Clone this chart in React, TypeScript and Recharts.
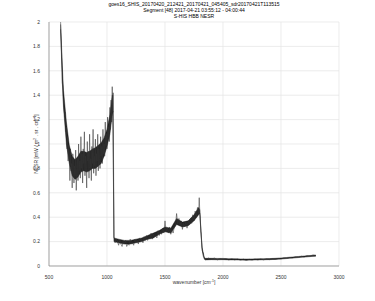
import { Area, CartesianGrid, ComposedChart, Line, XAxis, YAxis } from "recharts";

// band 1 (longwave), wavenumber in cm-1 and NESR values
const longwaveWn = [
  600, 605, 610, 615, 620, 625, 630, 635, 640, 645, 650, 655, 660, 665, 670, 675,
  680, 685, 690, 695, 700, 705, 710, 715, 720, 725, 730, 735, 740, 745, 750, 755,
  760, 765, 770, 775, 780, 785, 790, 795, 800, 805, 810, 815, 820, 825, 830, 835,
  840, 845, 850, 855, 860, 865, 870, 875, 880, 885, 890, 895, 900, 905, 910, 915,
  920, 925, 930, 935, 940, 945, 950, 955, 960, 965, 970, 975, 980, 985, 990, 995,
  1000, 1005, 1010, 1015, 1020, 1025, 1030, 1035, 1040, 1045, 1050, 1053,
];
const longwaveNesr = [
  1.98, 1.8, 1.72, 1.5, 1.47, 1.33, 1.3, 1.22, 1.26, 1.1, 1.14, 0.96, 1.06, 0.86, 0.99, 0.9,
  0.7, 0.96, 0.78, 0.84, 0.64, 0.92, 0.86, 0.68, 0.82, 0.74, 0.95, 0.62, 0.8, 0.88, 0.7, 1.0,
  0.78, 0.86, 0.72, 1.06, 0.8, 0.92, 0.68, 0.96, 0.84, 1.1, 0.74, 0.9, 0.82, 0.64, 1.02, 0.86,
  0.94, 0.72, 1.08, 0.8, 0.88, 0.7, 0.98, 0.84, 1.12, 0.76, 0.9, 0.82, 1.04, 0.74, 0.92, 0.86,
  1.08, 0.78, 0.96, 0.88, 0.8, 1.06, 0.9, 0.98, 0.84, 1.12, 0.92, 1.0, 0.9, 1.18, 0.98, 1.08,
  0.96, 1.22, 1.04, 1.14, 1.02, 1.3, 1.12, 1.36, 1.18, 1.47, 1.26, 1.42,
];

// band 2 (midwave)
const midwaveWn = [
  1060, 1070, 1080, 1090, 1100, 1110, 1120, 1130, 1140, 1150, 1160, 1170, 1180, 1190,
  1200, 1210, 1220, 1230, 1240, 1250, 1260, 1270, 1280, 1290, 1300, 1310, 1320, 1330,
  1340, 1350, 1360, 1370, 1380, 1390, 1400, 1410, 1420, 1430, 1440, 1450, 1460, 1470,
  1480, 1490, 1500, 1510, 1520, 1530, 1540, 1550, 1560, 1570, 1580, 1590, 1600, 1610,
  1620, 1630, 1640, 1650, 1660, 1670, 1680, 1690, 1700, 1710, 1720, 1730, 1740, 1750,
  1760, 1770, 1780, 1790, 1795, 1800, 1810, 1820, 1830, 1840,
];
const midwaveNesr = [
  0.24, 0.19, 0.22, 0.2, 0.17, 0.21, 0.18, 0.16, 0.2, 0.18, 0.21, 0.16, 0.18, 0.17,
  0.22, 0.18, 0.19, 0.17, 0.22, 0.19, 0.21, 0.18, 0.23, 0.2, 0.22, 0.19, 0.24, 0.21,
  0.25, 0.21, 0.23, 0.22, 0.27, 0.22, 0.26, 0.24, 0.25, 0.23, 0.29, 0.25, 0.28, 0.26,
  0.31, 0.27, 0.37, 0.28, 0.31, 0.27, 0.32, 0.26, 0.3, 0.27, 0.32, 0.33, 0.43, 0.34,
  0.39, 0.33, 0.37, 0.3, 0.35, 0.32, 0.36, 0.31, 0.37, 0.34, 0.39, 0.35, 0.42, 0.37,
  0.45, 0.4, 0.48, 0.43, 0.56, 0.44, 0.28, 0.14, 0.08, 0.06,
];

// band 3 (shortwave)
const shortwaveWn = [
  1850, 1875, 1900, 1925, 1950, 1975, 2000, 2025, 2050, 2075, 2100, 2125, 2150,
  2175, 2200, 2225, 2250, 2275, 2300, 2325, 2350, 2375, 2400, 2425, 2450, 2475,
  2500, 2525, 2550, 2575, 2600, 2625, 2650, 2675, 2700, 2725, 2750, 2775, 2800,
];
const shortwaveNesr = [
  0.05, 0.065, 0.055, 0.065, 0.05, 0.06, 0.055, 0.06, 0.05, 0.058, 0.05, 0.057, 0.048,
  0.056, 0.047, 0.055, 0.048, 0.056, 0.05, 0.057, 0.05, 0.058, 0.052, 0.06, 0.054, 0.062,
  0.058, 0.066, 0.062, 0.07, 0.066, 0.075, 0.07, 0.08, 0.074, 0.085, 0.078, 0.09, 0.085,
];

// dense dark core of the noisy trace (lower / upper edge)
const coreWn = [
  600, 615, 625, 650, 675, 700, 725, 750, 775, 800, 825, 850, 875, 900, 925, 950, 975,
  1000, 1025, 1045, 1050,
  1060, 1100, 1150, 1200, 1250, 1300, 1350, 1400, 1450, 1500, 1550, 1600, 1650, 1700,
  1750, 1790, 1800, 1810, 1820, 1840,
  1850, 1900, 1950, 2000, 2050, 2100, 2150, 2200, 2250, 2300, 2350, 2400, 2450, 2500,
  2550, 2600, 2650, 2700, 2750, 2800,
];
const coreLow = [
  1.94, 1.5, 1.3, 1.0, 0.84, 0.74, 0.71, 0.73, 0.77, 0.78, 0.77, 0.78, 0.8, 0.8, 0.82, 0.84, 0.9,
  0.98, 1.08, 1.24, 1.27,
  0.2, 0.19, 0.18, 0.18, 0.19, 0.2, 0.22, 0.23, 0.26, 0.28, 0.27, 0.34, 0.32, 0.33,
  0.37, 0.42, 0.43, 0.27, 0.13, 0.055,
  0.05, 0.052, 0.051, 0.052, 0.05, 0.05, 0.049, 0.048, 0.049, 0.05, 0.051, 0.052, 0.054, 0.057,
  0.061, 0.065, 0.069, 0.073, 0.077, 0.08,
];
const coreHigh = [
  2.0, 1.64, 1.44, 1.18, 0.99, 0.9, 0.87, 0.9, 0.94, 0.94, 0.93, 0.94, 0.96, 0.97, 0.99, 1.01, 1.05,
  1.12, 1.24, 1.4, 1.4,
  0.23, 0.22, 0.21, 0.21, 0.22, 0.23, 0.25, 0.27, 0.29, 0.32, 0.31, 0.39, 0.36, 0.37,
  0.42, 0.48, 0.46, 0.29, 0.15, 0.065,
  0.063, 0.063, 0.062, 0.062, 0.06, 0.06, 0.058, 0.057, 0.058, 0.059, 0.06, 0.061, 0.063, 0.066,
  0.07, 0.074, 0.078, 0.082, 0.086, 0.09,
];

const xTicks = [500, 1000, 1500, 2000, 2500, 3000];
const yTicks = [0, 0.2, 0.4, 0.6, 0.8, 1, 1.2, 1.4, 1.6, 1.8, 2];

const titleLines = [
  "goes16_SHIS_20170420_212421_20170421_045405_sdr20170421T113515",
  "Segment [48] 2017-04-21 03:55:12 - 04:00:44",
  "S-HIS HBB NESR",
];

const wn = [...longwaveWn, ...midwaveWn, ...shortwaveWn];
const nesr = [...longwaveNesr, ...midwaveNesr, ...shortwaveNesr];
const data = wn.map((w, i) => {
  const c = coreWn.indexOf(w);
  return {
    wn: w,
    nesr: nesr[i],
    core: c >= 0 ? [coreLow[c], coreHigh[c]] : undefined,
  };
});

const FONT = "'Liberation Sans', Arial, sans-serif";
const tickStyle = { fontSize: 5, fill: "#333", fontFamily: FONT };

export default function App() {
  return (
    <div style={{ position: "absolute", left: 0, top: 0, width: 375, height: 301, background: "#fff" }}>
      <ComposedChart
        width={375}
        height={301}
        data={data}
        margin={{ top: 22, right: 36, bottom: 0, left: 0 }}
      >
        <CartesianGrid stroke="#e4e4e4" strokeWidth={0.7} />
        <XAxis
          dataKey="wn"
          type="number"
          domain={[500, 3000]}
          ticks={xTicks}
          tick={tickStyle}
          tickLine={false}
          tickMargin={3}
          height={35}
          axisLine={{ stroke: "#888", strokeWidth: 0.7 }}
          allowDataOverflow
        />
        <YAxis
          type="number"
          domain={[0, 2]}
          ticks={yTicks}
          tick={tickStyle}
          tickLine={false}
          tickMargin={3}
          width={49}
          axisLine={{ stroke: "#888", strokeWidth: 0.7 }}
          allowDataOverflow
        />
        <Line
          dataKey="nesr"
          stroke="#333"
          strokeWidth={0.55}
          dot={false}
          type="linear"
          connectNulls
          isAnimationActive={false}
        />
        <Area
          dataKey="core"
          type="linear"
          stroke="#000"
          strokeWidth={0.4}
          fill="#000"
          fillOpacity={0.85}
          connectNulls
          isAnimationActive={false}
        />
      </ComposedChart>
      <svg
        width={375}
        height={301}
        style={{ position: "absolute", left: 0, top: 0, pointerEvents: "none" }}
      >
        {titleLines.map((t, i) => (
          <text
            key={t}
            x={194}
            y={6 + i * 6}
            textAnchor="middle"
            fontSize={5}
            fontFamily={FONT}
            fill="#000"
          >
            {t}
          </text>
        ))}
        <text
          x={194}
          y={284}
          textAnchor="middle"
          fontSize={5}
          fontFamily={FONT}
          fill="#333"
        >
          wavenumber [cm
          <tspan dy={-2} fontSize={3.5}>-1</tspan>
          <tspan dy={2}>]</tspan>
        </text>
        <text
          transform="translate(38,144) rotate(-90)"
          textAnchor="middle"
          fontSize={5}
          fontFamily={FONT}
          fill="#333"
        >
          NESR [mW / m
          <tspan dy={-2} fontSize={3.5}>2</tspan>
          <tspan dy={2}> . sr . cm</tspan>
          <tspan dy={-2} fontSize={3.5}>-1</tspan>
          <tspan dy={2}>]</tspan>
        </text>
      </svg>
    </div>
  );
}
